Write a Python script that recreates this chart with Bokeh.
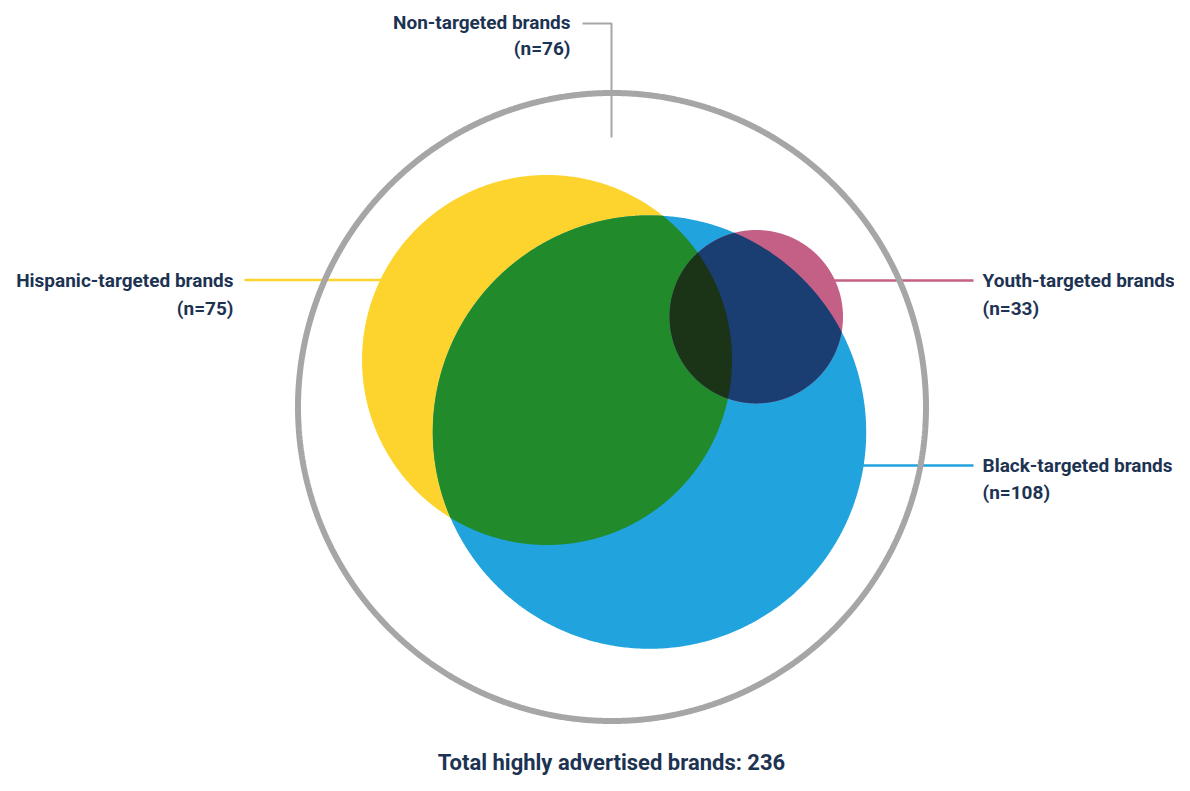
import numpy as np
from bokeh.plotting import figure
from bokeh.models import Range1d, ColumnDataSource
from bokeh.core.properties import value
from bokeh.embed import file_html
from bokeh.resources import INLINE

# ---- data ----
groups = ["Non-targeted brands", "Hispanic-targeted brands", "Black-targeted brands", "Youth-targeted brands"]
counts = [76, 75, 108, 33]
total_label = "Total highly advertised brands"
total = 236

# ---- layout (pixel coordinates of the drawing) ----
outer = (611.5, 406.5, 314.0)
circ_hisp = (546.5, 359.5, 185.0)
circ_black = (649.0, 431.6, 216.7)
circ_youth = (755.8, 316.2, 86.7)

YELLOW = "#FDD42E"
BLUE = "#21A3DD"
PINK = "#C45F85"
GREEN = "#218A2B"
NAVY = "#1A3D72"
DARK = "#1B3417"
GRAY = "#A6A6A6"
TEXT = "#1D3352"
FONT = "Roboto"

p = figure(width=1174, height=775, output_backend="svg", toolbar_location=None,
           x_range=Range1d(0, 1174), y_range=Range1d(775, 0), min_border=0)
p.axis.visible = False
p.grid.visible = False
p.outline_line_color = None
p.background_fill_color = "white"


def inside(px, py, c, tol=1e-6):
    return (px - c[0]) ** 2 + (py - c[1]) ** 2 <= c[2] ** 2 + tol


def region(circles, n=3000):
    xs, ys = [], []
    t = np.linspace(0, 2 * np.pi, n, endpoint=False)
    for i, c in enumerate(circles):
        px = c[0] + c[2] * np.cos(t)
        py = c[1] + c[2] * np.sin(t)
        m = np.ones_like(px, dtype=bool)
        for j, o in enumerate(circles):
            if j != i:
                m &= inside(px, py, o, tol=0.5)
        xs.append(px[m]); ys.append(py[m])
    xs = np.concatenate(xs); ys = np.concatenate(ys)
    cx, cy = xs.mean(), ys.mean()
    order = np.argsort(np.arctan2(ys - cy, xs - cx))
    return list(xs[order]), list(ys[order])


def circle_pts(c, n=720):
    t = np.linspace(0, 2 * np.pi, n, endpoint=False)
    return list(c[0] + c[2] * np.cos(t)), list(c[1] + c[2] * np.sin(t))


# connector lines (drawn beneath circles)
p.line([582, 611, 611], [23, 23, 137], line_color=GRAY, line_width=2)
p.line([244, 400], [279.5, 279.5], line_color=YELLOW, line_width=2.5)
p.line([800, 973], [280, 280], line_color=PINK, line_width=2.5)
p.line([840, 973], [465, 465], line_color=BLUE, line_width=2.5)

# outer ring
ox, oy = circle_pts(outer, 1440)
p.patch(ox + [ox[0]], oy + [oy[0]], fill_color=None, line_color=GRAY, line_width=6)

# regions
for c, col in [(circ_hisp, YELLOW), (circ_black, BLUE)]:
    x, y = circle_pts(c)
    p.patch(x, y, fill_color=col, line_color=None)
x, y = region([circ_hisp, circ_black]); p.patch(x, y, fill_color=GREEN, line_color=None)
x, y = circle_pts(circ_youth); p.patch(x, y, fill_color=PINK, line_color=None)
x, y = region([circ_black, circ_youth]); p.patch(x, y, fill_color=NAVY, line_color=None)
x, y = region([circ_hisp, circ_black, circ_youth]); p.patch(x, y, fill_color=DARK, line_color=None)

# labels
lab = ColumnDataSource(dict(
    x=[570, 570, 233, 233, 982, 982, 982, 982],
    y=[22, 48, 280, 308, 280, 308, 465, 492],
    t=[groups[0], f"(n={counts[0]})", groups[1], f"(n={counts[1]})",
       groups[3], f"(n={counts[3]})", groups[2], f"(n={counts[2]})"],
    a=["right", "right", "right", "right", "left", "left", "left", "left"],
))
p.text(x="x", y="y", text="t", text_align="a", source=lab, text_baseline="middle",
       text_font=value(FONT), text_font_style="bold", text_font_size="19px", text_color=TEXT)
p.text(x=[611], y=[762], text=[f"{total_label}: {total}"], text_align="center", text_baseline="middle",
       text_font=value(FONT), text_font_style="bold", text_font_size="22px", text_color=TEXT)

open("out.html", "w").write(file_html(p, INLINE))
